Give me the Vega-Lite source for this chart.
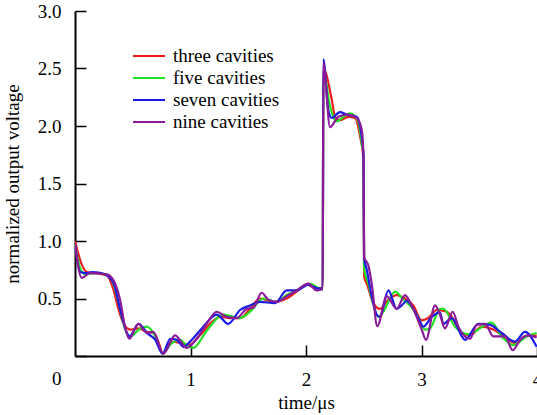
{
  "$schema": "https://vega.github.io/schema/vega-lite/v6.json",
  "width": 462,
  "height": 345,
  "autosize": {"type": "none"},
  "padding": {"left": 75, "top": 11, "right": 0, "bottom": 59},
  "background": "white",
  "config": {
    "view": {"stroke": null},
    "font": "Liberation Serif",
    "axis": {"grid": false, "domainColor": "black", "domainWidth": 2, "tickColor": "black", "tickWidth": 1.5, "labelColor": "black", "labelFont": "Liberation Serif", "titleFont": "Liberation Serif", "labelFontSize": 19, "titleFontSize": 19, "titleFontWeight": "normal", "titleColor": "black"}
  },
  "datasets": {
    "curves": [
      {"s": "three cavities", "t": 0, "v": 1.0},
      {"s": "three cavities", "t": 0.061, "v": 0.79},
      {"s": "three cavities", "t": 0.104, "v": 0.73},
      {"s": "three cavities", "t": 0.176, "v": 0.72},
      {"s": "three cavities", "t": 0.277, "v": 0.70},
      {"s": "three cavities", "t": 0.335, "v": 0.57},
      {"s": "three cavities", "t": 0.378, "v": 0.40},
      {"s": "three cavities", "t": 0.422, "v": 0.28},
      {"s": "three cavities", "t": 0.479, "v": 0.23},
      {"s": "three cavities", "t": 0.552, "v": 0.24},
      {"s": "three cavities", "t": 0.623, "v": 0.21},
      {"s": "three cavities", "t": 0.681, "v": 0.20},
      {"s": "three cavities", "t": 0.73, "v": 0.10},
      {"s": "three cavities", "t": 0.759, "v": 0.02},
      {"s": "three cavities", "t": 0.840, "v": 0.125},
      {"s": "three cavities", "t": 0.926, "v": 0.11},
      {"s": "three cavities", "t": 0.984, "v": 0.095},
      {"s": "three cavities", "t": 1.082, "v": 0.18},
      {"s": "three cavities", "t": 1.169, "v": 0.28},
      {"s": "three cavities", "t": 1.255, "v": 0.34},
      {"s": "three cavities", "t": 1.342, "v": 0.33},
      {"s": "three cavities", "t": 1.429, "v": 0.33},
      {"s": "three cavities", "t": 1.515, "v": 0.41},
      {"s": "three cavities", "t": 1.602, "v": 0.50},
      {"s": "three cavities", "t": 1.717, "v": 0.47},
      {"s": "three cavities", "t": 1.833, "v": 0.50},
      {"s": "three cavities", "t": 1.919, "v": 0.56},
      {"s": "three cavities", "t": 2.006, "v": 0.62},
      {"s": "three cavities", "t": 2.093, "v": 0.59},
      {"s": "three cavities", "t": 2.145, "v": 0.59},
      {"s": "three cavities", "t": 2.150, "v": 2.5},
      {"s": "three cavities", "t": 2.223, "v": 2.23},
      {"s": "three cavities", "t": 2.251, "v": 2.08},
      {"s": "three cavities", "t": 2.294, "v": 2.05},
      {"s": "three cavities", "t": 2.366, "v": 2.08},
      {"s": "three cavities", "t": 2.424, "v": 2.07},
      {"s": "three cavities", "t": 2.468, "v": 1.91},
      {"s": "three cavities", "t": 2.498, "v": 1.70},
      {"s": "three cavities", "t": 2.503, "v": 0.69},
      {"s": "three cavities", "t": 2.526, "v": 0.63},
      {"s": "three cavities", "t": 2.583, "v": 0.46},
      {"s": "three cavities", "t": 2.641, "v": 0.41},
      {"s": "three cavities", "t": 2.713, "v": 0.49},
      {"s": "three cavities", "t": 2.785, "v": 0.53},
      {"s": "three cavities", "t": 2.857, "v": 0.50},
      {"s": "three cavities", "t": 2.929, "v": 0.44},
      {"s": "three cavities", "t": 3.002, "v": 0.31},
      {"s": "three cavities", "t": 3.059, "v": 0.33},
      {"s": "three cavities", "t": 3.132, "v": 0.40},
      {"s": "three cavities", "t": 3.218, "v": 0.385},
      {"s": "three cavities", "t": 3.247, "v": 0.36},
      {"s": "three cavities", "t": 3.348, "v": 0.20},
      {"s": "three cavities", "t": 3.420, "v": 0.18},
      {"s": "three cavities", "t": 3.521, "v": 0.255},
      {"s": "three cavities", "t": 3.622, "v": 0.23},
      {"s": "three cavities", "t": 3.738, "v": 0.15},
      {"s": "three cavities", "t": 3.824, "v": 0.11},
      {"s": "three cavities", "t": 3.896, "v": 0.17},
      {"s": "three cavities", "t": 3.997, "v": 0.18},

      {"s": "five cavities", "t": 0, "v": 0.97},
      {"s": "five cavities", "t": 0.046, "v": 0.76},
      {"s": "five cavities", "t": 0.089, "v": 0.71},
      {"s": "five cavities", "t": 0.176, "v": 0.72},
      {"s": "five cavities", "t": 0.262, "v": 0.71},
      {"s": "five cavities", "t": 0.320, "v": 0.66},
      {"s": "five cavities", "t": 0.378, "v": 0.46},
      {"s": "five cavities", "t": 0.435, "v": 0.23},
      {"s": "five cavities", "t": 0.479, "v": 0.17},
      {"s": "five cavities", "t": 0.565, "v": 0.24},
      {"s": "five cavities", "t": 0.623, "v": 0.255},
      {"s": "five cavities", "t": 0.695, "v": 0.17},
      {"s": "five cavities", "t": 0.759, "v": 0.02},
      {"s": "five cavities", "t": 0.825, "v": 0.10},
      {"s": "five cavities", "t": 0.909, "v": 0.14},
      {"s": "five cavities", "t": 0.960, "v": 0.10},
      {"s": "five cavities", "t": 1.024, "v": 0.07},
      {"s": "five cavities", "t": 1.140, "v": 0.22},
      {"s": "five cavities", "t": 1.284, "v": 0.36},
      {"s": "five cavities", "t": 1.371, "v": 0.34},
      {"s": "five cavities", "t": 1.429, "v": 0.33},
      {"s": "five cavities", "t": 1.515, "v": 0.385},
      {"s": "five cavities", "t": 1.630, "v": 0.50},
      {"s": "five cavities", "t": 1.746, "v": 0.47},
      {"s": "five cavities", "t": 1.833, "v": 0.53},
      {"s": "five cavities", "t": 1.919, "v": 0.57},
      {"s": "five cavities", "t": 2.035, "v": 0.63},
      {"s": "five cavities", "t": 2.106, "v": 0.59},
      {"s": "five cavities", "t": 2.145, "v": 0.58},
      {"s": "five cavities", "t": 2.150, "v": 2.48},
      {"s": "five cavities", "t": 2.208, "v": 2.17},
      {"s": "five cavities", "t": 2.266, "v": 2.04},
      {"s": "five cavities", "t": 2.323, "v": 2.08},
      {"s": "five cavities", "t": 2.381, "v": 2.11},
      {"s": "five cavities", "t": 2.453, "v": 2.04},
      {"s": "five cavities", "t": 2.487, "v": 1.82},
      {"s": "five cavities", "t": 2.498, "v": 1.76},
      {"s": "five cavities", "t": 2.503, "v": 0.76},
      {"s": "five cavities", "t": 2.539, "v": 0.63},
      {"s": "five cavities", "t": 2.583, "v": 0.45},
      {"s": "five cavities", "t": 2.626, "v": 0.34},
      {"s": "five cavities", "t": 2.669, "v": 0.385},
      {"s": "five cavities", "t": 2.771, "v": 0.56},
      {"s": "five cavities", "t": 2.842, "v": 0.49},
      {"s": "five cavities", "t": 2.900, "v": 0.44},
      {"s": "five cavities", "t": 2.958, "v": 0.36},
      {"s": "five cavities", "t": 3.030, "v": 0.23},
      {"s": "five cavities", "t": 3.074, "v": 0.24},
      {"s": "five cavities", "t": 3.160, "v": 0.41},
      {"s": "five cavities", "t": 3.189, "v": 0.41},
      {"s": "five cavities", "t": 3.290, "v": 0.255},
      {"s": "five cavities", "t": 3.405, "v": 0.19},
      {"s": "five cavities", "t": 3.608, "v": 0.29},
      {"s": "five cavities", "t": 3.694, "v": 0.17},
      {"s": "five cavities", "t": 3.795, "v": 0.095},
      {"s": "five cavities", "t": 3.911, "v": 0.17},
      {"s": "five cavities", "t": 3.997, "v": 0.20},

      {"s": "seven cavities", "t": 0, "v": 0.97},
      {"s": "seven cavities", "t": 0.046, "v": 0.73},
      {"s": "seven cavities", "t": 0.104, "v": 0.72},
      {"s": "seven cavities", "t": 0.150, "v": 0.73},
      {"s": "seven cavities", "t": 0.262, "v": 0.71},
      {"s": "seven cavities", "t": 0.335, "v": 0.63},
      {"s": "seven cavities", "t": 0.392, "v": 0.40},
      {"s": "seven cavities", "t": 0.450, "v": 0.20},
      {"s": "seven cavities", "t": 0.470, "v": 0.17},
      {"s": "seven cavities", "t": 0.552, "v": 0.28},
      {"s": "seven cavities", "t": 0.623, "v": 0.20},
      {"s": "seven cavities", "t": 0.695, "v": 0.14},
      {"s": "seven cavities", "t": 0.759, "v": 0.02},
      {"s": "seven cavities", "t": 0.825, "v": 0.15},
      {"s": "seven cavities", "t": 0.883, "v": 0.14},
      {"s": "seven cavities", "t": 0.941, "v": 0.08},
      {"s": "seven cavities", "t": 0.996, "v": 0.125},
      {"s": "seven cavities", "t": 1.111, "v": 0.255},
      {"s": "seven cavities", "t": 1.227, "v": 0.36},
      {"s": "seven cavities", "t": 1.327, "v": 0.28},
      {"s": "seven cavities", "t": 1.429, "v": 0.40},
      {"s": "seven cavities", "t": 1.515, "v": 0.44},
      {"s": "seven cavities", "t": 1.602, "v": 0.47},
      {"s": "seven cavities", "t": 1.732, "v": 0.46},
      {"s": "seven cavities", "t": 1.833, "v": 0.57},
      {"s": "seven cavities", "t": 1.919, "v": 0.57},
      {"s": "seven cavities", "t": 2.020, "v": 0.62},
      {"s": "seven cavities", "t": 2.093, "v": 0.59},
      {"s": "seven cavities", "t": 2.145, "v": 0.585},
      {"s": "seven cavities", "t": 2.150, "v": 2.58},
      {"s": "seven cavities", "t": 2.193, "v": 2.14},
      {"s": "seven cavities", "t": 2.223, "v": 2.07},
      {"s": "seven cavities", "t": 2.294, "v": 2.12},
      {"s": "seven cavities", "t": 2.352, "v": 2.10},
      {"s": "seven cavities", "t": 2.439, "v": 2.08},
      {"s": "seven cavities", "t": 2.482, "v": 1.91},
      {"s": "seven cavities", "t": 2.498, "v": 1.73},
      {"s": "seven cavities", "t": 2.503, "v": 0.85},
      {"s": "seven cavities", "t": 2.526, "v": 0.75},
      {"s": "seven cavities", "t": 2.569, "v": 0.52},
      {"s": "seven cavities", "t": 2.612, "v": 0.36},
      {"s": "seven cavities", "t": 2.641, "v": 0.34},
      {"s": "seven cavities", "t": 2.713, "v": 0.57},
      {"s": "seven cavities", "t": 2.785, "v": 0.41},
      {"s": "seven cavities", "t": 2.829, "v": 0.44},
      {"s": "seven cavities", "t": 2.872, "v": 0.48},
      {"s": "seven cavities", "t": 2.972, "v": 0.33},
      {"s": "seven cavities", "t": 3.016, "v": 0.255},
      {"s": "seven cavities", "t": 3.088, "v": 0.34},
      {"s": "seven cavities", "t": 3.160, "v": 0.38},
      {"s": "seven cavities", "t": 3.189, "v": 0.28},
      {"s": "seven cavities", "t": 3.261, "v": 0.33},
      {"s": "seven cavities", "t": 3.377, "v": 0.14},
      {"s": "seven cavities", "t": 3.492, "v": 0.28},
      {"s": "seven cavities", "t": 3.593, "v": 0.27},
      {"s": "seven cavities", "t": 3.694, "v": 0.20},
      {"s": "seven cavities", "t": 3.810, "v": 0.125},
      {"s": "seven cavities", "t": 3.896, "v": 0.21},
      {"s": "seven cavities", "t": 3.997, "v": 0.08},

      {"s": "nine cavities", "t": 0, "v": 0.97},
      {"s": "nine cavities", "t": 0.058, "v": 0.68},
      {"s": "nine cavities", "t": 0.130, "v": 0.72},
      {"s": "nine cavities", "t": 0.274, "v": 0.71},
      {"s": "nine cavities", "t": 0.332, "v": 0.66},
      {"s": "nine cavities", "t": 0.390, "v": 0.49},
      {"s": "nine cavities", "t": 0.433, "v": 0.255},
      {"s": "nine cavities", "t": 0.470, "v": 0.15},
      {"s": "nine cavities", "t": 0.548, "v": 0.28},
      {"s": "nine cavities", "t": 0.621, "v": 0.20},
      {"s": "nine cavities", "t": 0.678, "v": 0.21},
      {"s": "nine cavities", "t": 0.765, "v": 0.02},
      {"s": "nine cavities", "t": 0.866, "v": 0.18},
      {"s": "nine cavities", "t": 0.967, "v": 0.07},
      {"s": "nine cavities", "t": 1.054, "v": 0.15},
      {"s": "nine cavities", "t": 1.140, "v": 0.28},
      {"s": "nine cavities", "t": 1.227, "v": 0.385},
      {"s": "nine cavities", "t": 1.313, "v": 0.34},
      {"s": "nine cavities", "t": 1.400, "v": 0.33},
      {"s": "nine cavities", "t": 1.487, "v": 0.41},
      {"s": "nine cavities", "t": 1.544, "v": 0.42},
      {"s": "nine cavities", "t": 1.616, "v": 0.55},
      {"s": "nine cavities", "t": 1.674, "v": 0.49},
      {"s": "nine cavities", "t": 1.746, "v": 0.47},
      {"s": "nine cavities", "t": 1.833, "v": 0.52},
      {"s": "nine cavities", "t": 1.919, "v": 0.57},
      {"s": "nine cavities", "t": 2.020, "v": 0.63},
      {"s": "nine cavities", "t": 2.093, "v": 0.57},
      {"s": "nine cavities", "t": 2.136, "v": 0.58},
      {"s": "nine cavities", "t": 2.145, "v": 0.58},
      {"s": "nine cavities", "t": 2.150, "v": 2.55},
      {"s": "nine cavities", "t": 2.208, "v": 1.99},
      {"s": "nine cavities", "t": 2.280, "v": 2.08},
      {"s": "nine cavities", "t": 2.366, "v": 2.10},
      {"s": "nine cavities", "t": 2.439, "v": 2.07},
      {"s": "nine cavities", "t": 2.482, "v": 1.97},
      {"s": "nine cavities", "t": 2.498, "v": 1.73},
      {"s": "nine cavities", "t": 2.503, "v": 0.86},
      {"s": "nine cavities", "t": 2.539, "v": 0.79},
      {"s": "nine cavities", "t": 2.569, "v": 0.63},
      {"s": "nine cavities", "t": 2.617, "v": 0.26},
      {"s": "nine cavities", "t": 2.699, "v": 0.52},
      {"s": "nine cavities", "t": 2.785, "v": 0.41},
      {"s": "nine cavities", "t": 2.857, "v": 0.53},
      {"s": "nine cavities", "t": 2.915, "v": 0.44},
      {"s": "nine cavities", "t": 3.002, "v": 0.23},
      {"s": "nine cavities", "t": 3.039, "v": 0.14},
      {"s": "nine cavities", "t": 3.117, "v": 0.44},
      {"s": "nine cavities", "t": 3.160, "v": 0.36},
      {"s": "nine cavities", "t": 3.203, "v": 0.24},
      {"s": "nine cavities", "t": 3.270, "v": 0.385},
      {"s": "nine cavities", "t": 3.319, "v": 0.255},
      {"s": "nine cavities", "t": 3.420, "v": 0.15},
      {"s": "nine cavities", "t": 3.478, "v": 0.27},
      {"s": "nine cavities", "t": 3.550, "v": 0.28},
      {"s": "nine cavities", "t": 3.622, "v": 0.17},
      {"s": "nine cavities", "t": 3.723, "v": 0.17},
      {"s": "nine cavities", "t": 3.790, "v": 0.05},
      {"s": "nine cavities", "t": 3.853, "v": 0.14},
      {"s": "nine cavities", "t": 3.925, "v": 0.18},
      {"s": "nine cavities", "t": 3.997, "v": 0.16}
    ]
  },
  "data": {"name": "curves"},
  "mark": {"type": "line", "interpolate": "monotone", "strokeWidth": 2.2, "clip": true},
  "encoding": {
    "x": {
      "field": "t", "type": "quantitative",
      "scale": {"domain": [0, 4], "nice": false, "zero": false},
      "axis": {"title": "time/\u03bcs", "values": [1, 2, 3, 4], "format": "d", "tickSize": -11, "labelPadding": 25, "titlePadding": 4, "labelFlush": false}
    },
    "y": {
      "field": "v", "type": "quantitative",
      "scale": {"domain": [0, 3], "nice": false},
      "axis": {"title": "normalized output voltage", "values": [0, 0.5, 1, 1.5, 2, 2.5, 3], "labelExpr": "datum.value == 0 ? '0' : format(datum.value, '.1f')", "tickSize": -11, "labelPadding": 25, "titlePadding": 15, "labelFlush": false, "labelOffset": {"condition": {"test": "datum.value == 0", "value": 22}, "value": 0}}
    },
    "color": {
      "field": "s", "type": "nominal",
      "scale": {"domain": ["three cavities", "five cavities", "seven cavities", "nine cavities"], "range": ["#ee1c1c", "#22e022", "#1a1ae6", "#8a1a9a"]},
      "legend": {"title": null, "orient": "none", "legendX": 63, "legendY": 34, "padding": 0, "symbolType": "M-1.6,0H1.6", "symbolSize": 400, "symbolStrokeWidth": 2, "labelFont": "Liberation Serif", "labelFontSize": 19, "labelColor": "black", "labelOffset": 13, "rowPadding": 1}
    }
  }
}
